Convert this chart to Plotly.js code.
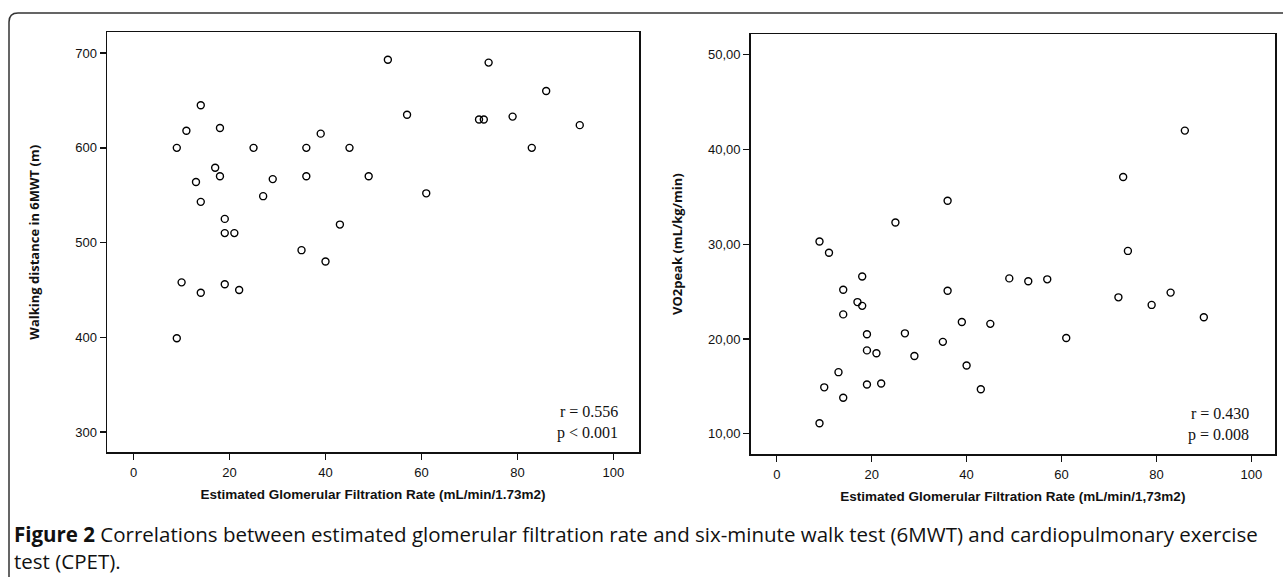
<!DOCTYPE html>
<html><head><meta charset="utf-8">
<script src="https://cdn.plot.ly/plotly-3.0.1.min.js"></script>
<style>html,body{margin:0;padding:0;background:#fff;overflow:hidden;} #chart{width:1283px;height:577px;}</style>
</head><body><div id="chart"></div>
<script>
// Left panel: eGFR vs 6MWT walking distance
const egfrWalk = [9,11,14,18,17,18,13,14,19,19,21,25,27,29,36,36,39,45,49,43,35,40,10,14,19,22,9,53,74,86,57,72,73,79,93,83,61];
const walkDistance = [600,618,645,621,579,570,564,543,525,510,510,600,549,567,600,570,615,600,570,519,492,480,458,447,456,450,399,693,690,660,635,630,630,633,624,600,552];
// Right panel: eGFR vs VO2peak
const egfrVo2 = [9,11,25,36,9,10,13,14,14,14,18,17,18,19,19,21,19,22,27,29,35,36,39,40,43,45,86,73,74,49,53,57,72,83,79,90,61];
const vo2peak = [30.3,29.1,32.3,34.6,11.1,14.9,16.5,13.8,25.2,22.6,26.6,23.9,23.5,20.5,18.8,18.5,15.2,15.3,20.6,18.2,19.7,25.1,21.8,17.2,14.7,21.6,42.0,37.1,29.3,26.4,26.1,26.3,24.4,24.9,23.6,22.3,20.1];

const xTickVals = [0,20,40,60,80,100];
const walkTickVals = [300,400,500,600,700];
const vo2TickVals = [10,20,30,40,50];

const leftXTitle = 'Estimated Glomerular Filtration Rate (mL/min/1.73m2)';
const rightXTitle = 'Estimated Glomerular Filtration Rate (mL/min/1,73m2)';
const leftYTitle = 'Walking distance in 6MWT (m)';
const rightYTitle = 'VO2peak (mL/kg/min)';
const leftStats = ['r = 0.556', 'p < 0.001'];
const rightStats = ['r = 0.430', 'p = 0.008'];
const captionBold = 'Figure 2';
const captionLine1 = ' Correlations between estimated glomerular filtration rate and six-minute walk test (6MWT) and cardiopulmonary exercise';
const captionLine2 = 'test (CPET).';

const W = 1283, H = 577;
const px = v => v / W;
const py = v => 1 - v / H;

const marker = {symbol: 'circle-open', size: 7, color: '#000', line: {width: 1.4, color: '#000'}};
const tickFont = {family: 'Liberation Sans, Arial, sans-serif', size: 13, color: '#111'};
const titleFontX = {family: 'Liberation Sans, Arial, sans-serif', size: 13.5, color: '#111'};
const titleFontY = {family: 'Open Sans, sans-serif', size: 13, color: '#111'};
const statFont = {family: 'Liberation Serif, Times New Roman, serif', size: 16, color: '#111'};
const captionFont = {family: 'Open Sans, sans-serif', size: 20.5, color: '#111'};

const axisBase = {
  showline: true, mirror: true, linecolor: '#111', linewidth: 1.5,
  ticks: 'outside', ticklen: 6, tickwidth: 1.3, tickcolor: '#111',
  showgrid: false, zeroline: false, tickfont: tickFont, automargin: false
};

const data = [
  {type: 'scatter', mode: 'markers', x: egfrWalk, y: walkDistance, xaxis: 'x', yaxis: 'y', marker: marker, showlegend: false, hoverinfo: 'x+y'},
  {type: 'scatter', mode: 'markers', x: egfrVo2, y: vo2peak, xaxis: 'x2', yaxis: 'y2', marker: marker, showlegend: false, hoverinfo: 'x+y'}
];

const layout = {
  width: W, height: H,
  margin: {l: 0, r: 0, t: 0, b: 0},
  paper_bgcolor: '#fff', plot_bgcolor: '#fff',
  separators: ',.',
  showlegend: false,
  xaxis: Object.assign({}, axisBase, {
    domain: [px(107), px(639)], range: [-5.55, 105.35], tickvals: xTickVals, ticklabelstandoff: 2,
    anchor: 'y', title: {text: '<b>' + leftXTitle + '</b>', font: titleFontX, standoff: 10}
  }),
  yaxis: Object.assign({}, axisBase, {
    domain: [py(452.3), py(32.3)], range: [278.6, 722], tickvals: walkTickVals,
    anchor: 'x', title: {text: '<b>' + leftYTitle + '</b>', font: titleFontY, standoff: 32}
  }),
  xaxis2: Object.assign({}, axisBase, {
    domain: [px(750.7), px(1275)], range: [-5.5, 105], tickvals: xTickVals, ticklabelstandoff: 2,
    anchor: 'y2', title: {text: '<b>' + rightXTitle + '</b>', font: titleFontX, standoff: 10}
  }),
  yaxis2: Object.assign({}, axisBase, {
    domain: [py(454.3), py(34)], range: [7.83, 52.2], tickvals: vo2TickVals, tickformat: '.2f',
    anchor: 'x2', title: {text: '<b>' + rightYTitle + '</b>', font: titleFontY, standoff: 22}
  }),
  annotations: [
    {xref: 'paper', yref: 'paper', x: px(620), y: py(411), xanchor: 'right', yanchor: 'middle', showarrow: false, text: leftStats[0], font: statFont},
    {xref: 'paper', yref: 'paper', x: px(620), y: py(433), xanchor: 'right', yanchor: 'middle', showarrow: false, text: leftStats[1], font: statFont},
    {xref: 'paper', yref: 'paper', x: px(1251), y: py(413), xanchor: 'right', yanchor: 'middle', showarrow: false, text: rightStats[0], font: statFont},
    {xref: 'paper', yref: 'paper', x: px(1251), y: py(435), xanchor: 'right', yanchor: 'middle', showarrow: false, text: rightStats[1], font: statFont},
    {xref: 'paper', yref: 'paper', x: px(12), y: py(534), xanchor: 'left', yanchor: 'middle', showarrow: false, align: 'left', text: '<b>' + captionBold + '</b>' + captionLine1, font: captionFont},
    {xref: 'paper', yref: 'paper', x: px(12), y: py(561), xanchor: 'left', yanchor: 'middle', showarrow: false, align: 'left', text: captionLine2, font: captionFont}
  ],
  shapes: [
    {type: 'path', xref: 'paper', yref: 'paper', layer: 'below',
     path: 'M ' + px(9) + ',' + py(577) + ' L ' + px(9) + ',' + py(22) + ' Q ' + px(9) + ',' + py(13) + ' ' + px(18) + ',' + py(13) + ' L ' + px(1283) + ',' + py(13),
     line: {color: '#333', width: 1.5}}
  ]
};

Plotly.newPlot('chart', data, layout, {displayModeBar: false, staticPlot: true});
</script>
</body></html>
